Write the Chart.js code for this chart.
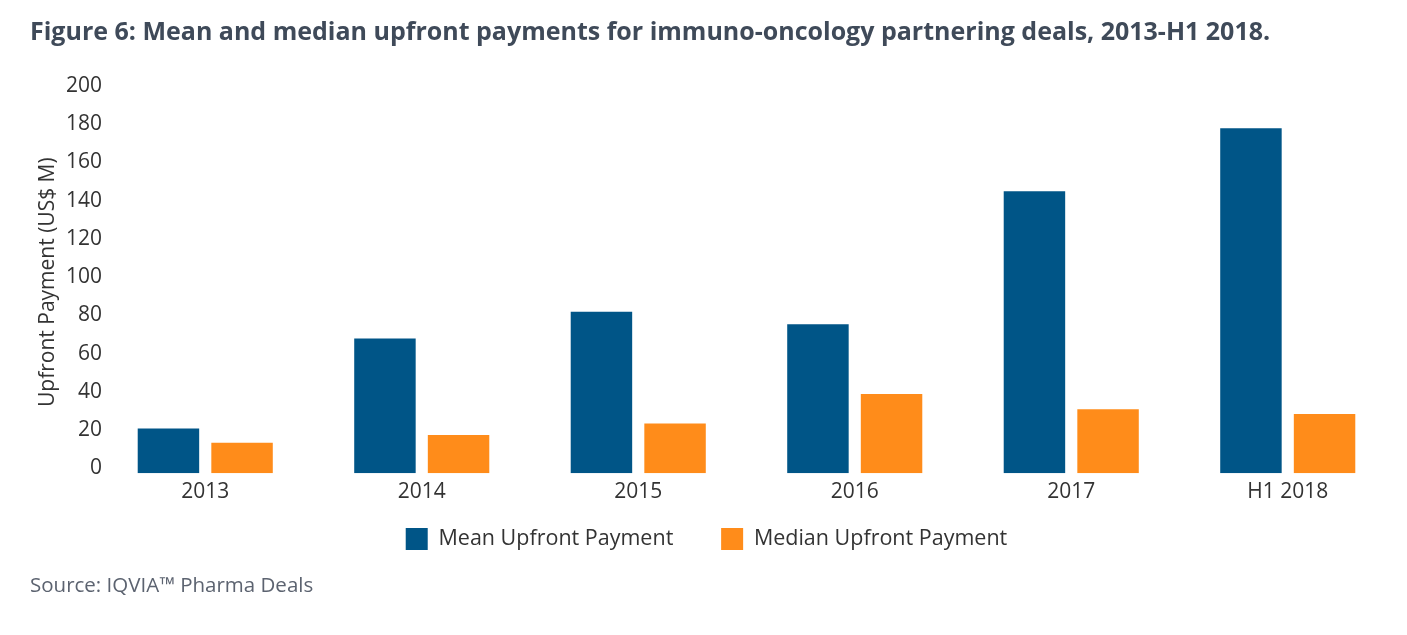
<!DOCTYPE html>
<html>
<head>
<meta charset="utf-8">
<script src="https://cdn.jsdelivr.net/npm/chart.js@4"></script>
<style>
  body { margin: 0; background: #fff; font-family: "Open Sans", sans-serif; }
  #wrap { position: relative; width: 1407px; height: 635px; }
  #title { position: absolute; left: 30px; top: 13px; font-size: 25px; font-weight: bold; color: #3f4a59; white-space: nowrap; }
  #source { position: absolute; left: 30px; top: 570px; font-size: 20.5px; color: #5c6370; white-space: nowrap; }
  canvas { position: absolute; left: 0; top: 0; }
</style>
</head>
<body>
<div id="wrap">
  <canvas id="myChart" width="1407" height="635"></canvas>
  <div id="title">Figure 6: Mean and median upfront payments for immuno-oncology partnering deals, 2013-H1 2018.</div>
  <div id="source">Source: IQVIA™ Pharma Deals</div>
</div>
<script>
const years = ['2013', '2014', '2015', '2016', '2017', 'H1 2018'];
const meanUpfront = [23.5, 70.5, 84.5, 78, 147.5, 180.5];
const medianUpfront = [16, 20, 26, 41.5, 33.5, 31];
const yTicks = [0, 20, 40, 60, 80, 100, 120, 140, 160, 180, 200];

const ctx = document.getElementById('myChart');

new Chart(ctx, {
type: 'bar',
data: {
    labels: years,
    datasets: [{
        label: 'Mean Upfront Payment',
        data: meanUpfront,
        backgroundColor: '#005587',
        borderWidth: 0,
        categoryPercentage: 0.68,
        barPercentage: 0.835
    }, {
        label: 'Median Upfront Payment',
        data: medianUpfront,
        backgroundColor: '#ff8c1a',
        borderWidth: 0,
        categoryPercentage: 0.68,
        barPercentage: 0.835
    }]
},
options: {
    responsive: false,
    animation: false,
    devicePixelRatio: 1,
    layout: {
        padding: { top: 91, left: 17, right: 11, bottom: 75 }
    },
    plugins: {
        tooltip: { enabled: false },
        legend: {
            position: 'bottom',
            labels: {
                boxWidth: 22,
                boxHeight: 22,
                padding: 25.5,
                color: '#333',
                font: { family: 'Open Sans', size: 21.5 },
                generateLabels: chart => {
                    const items = Chart.defaults.plugins.legend.labels.generateLabels(chart);
                    items.forEach((it, i) => {
                        if (i < items.length - 1) it.text = it.text + '\u00a0'.repeat(4);
                    });
                    return items;
                }
            }
        }
    },
    scales: {
        x: {
            grid: { display: false },
            border: { display: false },
            ticks: {
                color: '#333',
                padding: -2,
                font: { family: 'Open Sans', size: 21 }
            }
        },
        y: {
            min: 0,
            max: 200,
            grid: { display: false },
            border: { display: false },
            afterFit: s => {
                s.width = 80;
                // let the tick labels run a little into the plot area
                s._computeLabelArea = () => undefined;
            },
            afterBuildTicks: s => { s.ticks = yTicks.map(v => ({ value: v })); },
            title: {
                display: true,
                text: 'Upfront Payment (US$ M)',
                color: '#333',
                padding: { top: 18, bottom: 0 },
                font: { family: 'Open Sans', size: 21 }
            },
            ticks: {
                color: '#333',
                padding: -13,
                labelOffset: -5,
                font: { family: 'Open Sans', size: 21 }
            }
        }
    }
}
})
</script>
</body>
</html>
